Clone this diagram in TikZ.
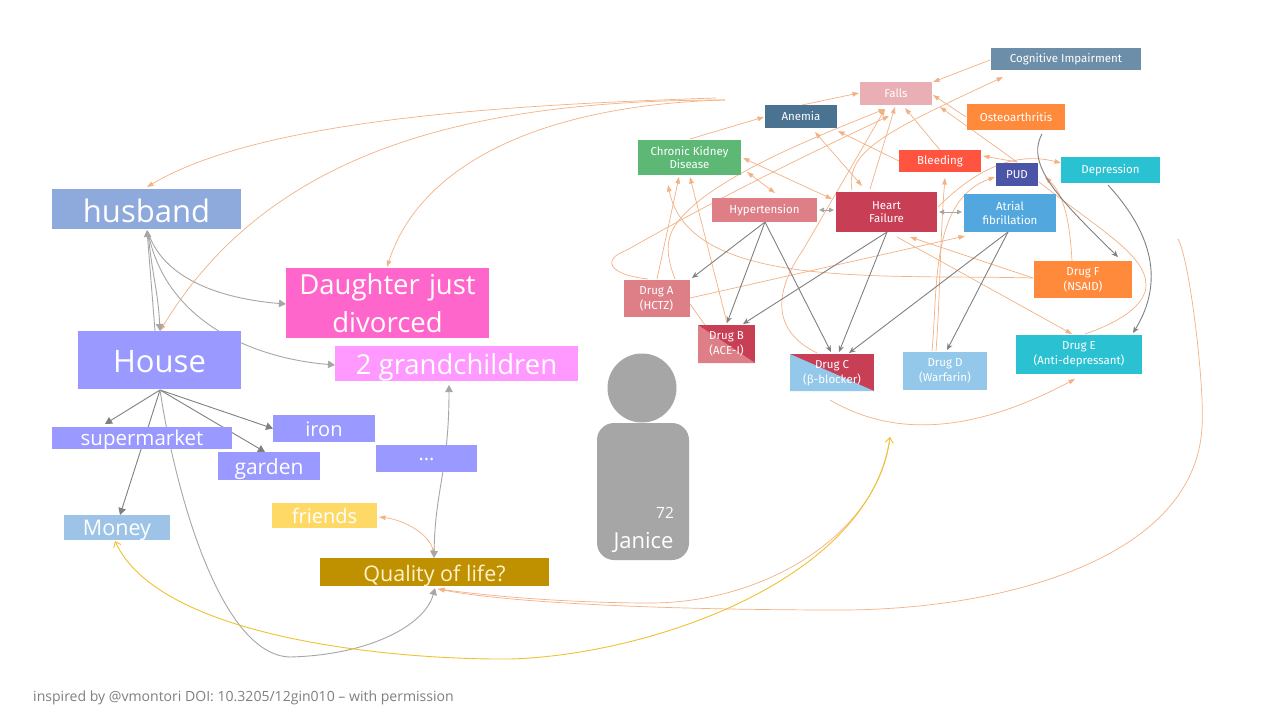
\documentclass[tikz,border=0pt]{standalone}
\usepackage{fontspec}
\usetikzlibrary{arrows.meta,calc}
\newfontfamily\lfont{Open Sans}
\newfontfamily\rfont{Fira Sans}
\newcommand{\fsz}[1]{\fontsize{#1}{#1}\selectfont}
\newcommand{\rz}[2]{\raisebox{-#1pt}[\height][\depth]{#2}}
\definecolor{cgray}{HTML}{A6A6A6}
\definecolor{dgray}{HTML}{808080}
\definecolor{corange}{HTML}{F4B183}
\definecolor{cyellow}{HTML}{EFC22F}
\definecolor{hfred}{HTML}{C73E55}
\definecolor{hyppink}{HTML}{DE7F88}
\definecolor{wblue}{HTML}{94C8EA}
\definecolor{nsaid}{HTML}{FF8A3C}
\definecolor{tealc}{HTML}{2AC1D3}
\definecolor{lav}{HTML}{9999FF}
\pgfdeclarelayer{bg}
\pgfsetlayers{bg,main}
\tikzset{
 x=1pt,y=-1pt,
 lbox/.style={draw=none,inner sep=0pt,text=white,align=center,font=\lfont},
 rbox/.style={draw=none,inner sep=0pt,text=white,align=center,font=\rfont\fsz{11.5}},
 wh/.style 2 args={minimum width=#1pt,minimum height=#2pt},
 gto/.style={draw=cgray,line width=0.9pt,-{Triangle[length=7pt,width=7.5pt]}},
 gdblb/.style={draw=cgray,line width=0.9pt,{Triangle[length=7pt,width=7.5pt]}-{Triangle[length=7pt,width=7.5pt]}},
 dto/.style={draw=dgray,line width=0.9pt,-{Triangle[length=7pt,width=7.5pt]}},
 gdbl/.style={draw=cgray,line width=1pt,{Triangle[length=5pt,width=4.5pt]}-{Triangle[length=5pt,width=4.5pt]}},
 rto/.style={draw=dgray,line width=0.9pt,-{Stealth[length=6.5pt,width=5.5pt]}},
 oto/.style={draw=corange,line width=0.7pt,-{Triangle[length=6.5pt,width=4.5pt]}},
 odbl/.style={draw=corange,line width=0.7pt,{Triangle[length=6.5pt,width=4.5pt]}-{Triangle[length=6.5pt,width=4.5pt]}},
 ono/.style={draw=corange,line width=0.7pt},
 yarrow/.style={draw=cyellow,line width=0.9pt,{Straight Barb[length=5pt,width=8pt]}-{Straight Barb[length=5pt,width=8pt]}},
 splitb/.style={path picture={\fill[hyppink] (path picture bounding box.north west) -- (path picture bounding box.south east) -- (path picture bounding box.south west) -- cycle;}},
 splitc/.style={path picture={\fill[wblue] (path picture bounding box.north west) -- (path picture bounding box.south east) -- (path picture bounding box.south west) -- cycle;}},
}
\begin{document}
\begin{tikzpicture}
\useasboundingbox (0,0) rectangle (1280,720);
% ---------- left nodes
\node[lbox,fill={rgb,255:red,142;green,169;blue,219},wh={189}{40},font=\lfont\fsz{31}] (husband) at (146.5,209) {\rz{1.5}{husband}};
\node[lbox,fill=lav,wh={163}{58},font=\lfont\fsz{31}] (house) at (159.5,360) {\rz{2}{House}};
\node[lbox,fill={rgb,255:red,255;green,102;blue,204},wh={203}{70},font=\lfont\fsz{27.5},text width=203pt] (daughter) at (387.5,303) {Daughter just\\[11pt]divorced};
\node[lbox,fill={rgb,255:red,255;green,153;blue,255},wh={243}{35},font=\lfont\fsz{27.5}] (grand) at (456.5,363.5) {\rz{4}{2 grandchildren}};
\node[lbox,fill=lav,wh={180}{22},font=\lfont\fsz{20.5}] (super) at (142,438) {\rz{2}{supermarket}};
\node[lbox,fill=lav,wh={102}{27},font=\lfont\fsz{20}] (iron) at (324,428.5) {\rz{1}{iron}};
\node[lbox,fill=lav,wh={102}{28},font=\lfont\fsz{21}] (garden) at (269,466) {\rz{3}{garden}};
\node[lbox,fill=lav,wh={101}{27},font=\lfont\fsz{20}] (dots) at (426.5,458.5) {\rz{1}{...}};
\node[lbox,fill={rgb,255:red,255;green,217;blue,102},wh={105}{25},font=\lfont\fsz{20}] (friends) at (324.5,515.5) {friends};
\node[lbox,fill={rgb,255:red,157;green,195;blue,230},wh={106}{25},font=\lfont\fsz{21.5}] (money) at (117,527.5) {\rz{3}{Money}};
\node[lbox,fill={rgb,255:red,191;green,144;blue,0},wh={229}{28},font=\lfont\fsz{21.5},text={rgb,255:red,255;green,242;blue,204}] (qol) at (434.5,572) {\rz{4}{Quality of life?}};
% ---------- person
\node[draw=none,fill=cgray,circle,minimum size=69pt,inner sep=0pt] (head) at (642,388) {};
\node[draw=none,fill=cgray,rounded corners=17pt,minimum width=92pt,minimum height=137pt,inner sep=0pt] (body) at (643,491.5) {};
\node[text=white,font=\lfont\fsz{15.5},inner sep=0pt] (age) at (665,513) {72};
\node[text=white,font=\lfont\fsz{22},inner sep=0pt] (name) at (643.5,542) {Janice};
% ---------- right nodes
\node[rbox,fill={rgb,255:red,108;green,142;blue,168},wh={150}{22}] (cog) at (1066,59) {Cognitive Impairment};
\node[rbox,fill={rgb,255:red,233;green,175;blue,180},wh={72}{23}] (falls) at (896,93.5) {Falls};
\node[rbox,fill=nsaid,wh={98}{26}] (osteo) at (1016,117) {Osteoarthritis};
\node[rbox,fill={rgb,255:red,74;green,114;blue,145},wh={72}{23}] (anemia) at (801,116.5) {Anemia};
\node[rbox,fill={rgb,255:red,92;green,184;blue,116},wh={103}{35}] (ckd) at (689.5,157.5) {Chronic Kidney\\[2pt]Disease};
\node[rbox,fill={rgb,255:red,255;green,84;blue,64},wh={82}{22}] (bleed) at (940,161) {Bleeding};
\node[rbox,fill={rgb,255:red,74;green,85;blue,168},wh={42}{23}] (pud) at (1017,174.5) {PUD};
\node[rbox,fill=tealc,wh={99}{26}] (dep) at (1110.5,170) {Depression};
\node[rbox,fill=hyppink,wh={105}{24}] (hyp) at (764.5,210) {Hypertension};
\node[rbox,fill=hfred,wh={101}{40}] (hf) at (886.5,212) {Heart\\[2pt]Failure};
\node[rbox,fill={rgb,255:red,82;green,168;blue,222},wh={92}{38}] (af) at (1010,213) {Atrial\\[2pt]fibrillation};
\node[rbox,fill=hyppink,wh={66}{37}] (drA) at (656.5,298.5) {Drug A\\[2pt](HCTZ)};
\node[rbox,fill=hfred,splitb,wh={57}{38}] (drB) at (726.5,344) {Drug B\\[2pt](ACE-I)};
\node[rbox,fill=hfred,splitc,wh={84}{37}] (drC) at (832,372.5) {\rule{0pt}{10pt}Drug C\\[2pt](β-blocker)};
\node[rbox,fill=wblue,wh={84}{38}] (drD) at (945,371) {Drug D\\[2pt](Warfarin)};
\node[rbox,fill=tealc,wh={126}{39}] (drE) at (1079,354.5) {Drug E\\[2pt](Anti-depressant)};
\node[rbox,fill=nsaid,wh={98}{37}] (drF) at (1083,279.5) {Drug F\\[2pt](NSAID)};
% ---------- footer
\node[anchor=west,inner sep=0pt,text=dgray,font=\lfont\fsz{14.05}] (credit) at (33,697.5) {inspired by @vmontori DOI: 10.3205/12gin010 – with permission};
% ---------- free ends
\coordinate (src1) at (725,100);
\coordinate (src2) at (716,98);
\coordinate (yend) at (890,437);
\coordinate (lstart) at (1178,239);
% ---------- connectors
\begin{pgfonlayer}{bg}
\fill[white] (0,0) rectangle (1280,720);
% left orange
\draw[oto] (src2) .. controls (500,105) and (260,120) .. ([shift={(0.5,-22)}]husband.center);
\draw[oto] (src1) .. controls (540,105) and (420,165) .. ([shift={(-0.5,-36)}]daughter.center);
\draw[oto] (src1) .. controls (470,100) and (270,150) .. ([shift={(0.5,-29)}]house.center);
% left gray
\draw[gto] ([shift={(-4.5,-29)}]house.center) -- ([shift={(0.5,21)}]husband.center);
\draw[gto] ([shift={(1.5,23)}]husband.center) .. controls (152,275) and (158,290) .. ([shift={(0.5,-29)}]house.center);
\draw[gto] ([shift={(1.5,23)}]husband.center) .. controls (165,285) and (235,300) .. ([shift={(-101.5,1)}]daughter.center);
\draw[gto] ([shift={(1.5,23)}]husband.center) .. controls (165,320) and (250,358) .. ([shift={(-121.5,1.5)}]grand.center);
\draw[dto] ([shift={(0.5,30)}]house.center) -- ([shift={(-37,-14)}]super.center);
\draw[dto] ([shift={(0.5,30)}]house.center) -- ([shift={(3,-12.5)}]money.center);
\draw[dto] ([shift={(0.5,30)}]house.center) -- ([shift={(-51,0)}]iron.center);
\draw[dto] ([shift={(0.5,30)}]house.center) -- ([shift={(-4,-14)}]garden.center);
\draw[gto] ([shift={(0.5,30)}]house.center) .. controls (175,490) and (220,655) .. (290,657) .. controls (370,655) and (425,625) .. ([shift={(0.5,16)}]qol.center);
\draw[odbl] ([shift={(54.5,1.5)}]friends.center) .. controls (405,520) and (430,535) .. ([shift={(-0.5,-16)}]qol.center);
\draw[gdblb] ([shift={(-0.5,-14)}]qol.center) .. controls (435,490) and (449,470) .. ([shift={(-7.5,21.5)}]grand.center);
% long orange
\draw[oto] (lstart) .. controls (1190,260) and (1205,390) .. (1202,427) .. controls (1195,560) and (1000,610) .. (840,610) .. controls (700,610) and (520,605) .. ([shift={(3.5,17)}]qol.center);
\draw[oto] (yend) .. controls (880,530) and (770,603) .. (650,603) .. controls (600,603) and (520,600) .. ([shift={(3.5,17)}]qol.center);
\draw[yarrow] ([shift={(-2,13.5)}]money.center) .. controls (160,640) and (400,660) .. (510,659) .. controls (650,655) and (870,580) .. (yend);
% right orange
\draw[oto] ([shift={(0.5,-18.5)}]ckd.center) -- ([shift={(-37,0.5)}]anemia.center);
\draw[oto] ([shift={(1,-11.5)}]anemia.center) -- ([shift={(-37,-0.5)}]falls.center);
\draw[oto] ([shift={(-76,1)}]cog.center) -- ([shift={(37,-11.5)}]falls.center);
\draw[oto] ([shift={(-34.5,-22)}]hf.center) .. controls (845,150) and (890,130) .. ([shift={(-63,18)}]cog.center);
\draw[oto] ([shift={(-8.5,-19.5)}]drA.center) .. controls (610,275) and (600,260) .. (627,250) .. controls (720,197) and (800,158) .. ([shift={(-7,22.5)}]falls.center);
\draw[oto] ([shift={(18.5,-19.5)}]drA.center) .. controls (660,240) and (670,225) .. (700,200) .. controls (745,165) and (820,135) .. ([shift={(-11,15.5)}]falls.center);
\draw[oto] ([shift={(0.5,-19.5)}]drA.center) -- ([shift={(-10.5,19.5)}]ckd.center);
\draw[oto] ([shift={(0.5,-21)}]drB.center) -- ([shift={(0.5,19.5)}]ckd.center);
\draw[oto] ([shift={(-50,-1.5)}]drF.center) .. controls (880,274) and (690,290) .. ([shift={(-21.5,27.5)}]ckd.center);
\draw[oto] ([shift={(-15,-19.5)}]drC.center) .. controls (770,330) and (775,290) .. (803,250) -- ([shift={(-11,15.5)}]falls.center);
\draw[oto] ([shift={(-16.5,-23)}]hf.center) -- ([shift={(-1,13.5)}]falls.center);
\draw[oto] ([shift={(0,-11)}]bleed.center) -- ([shift={(9,14.5)}]falls.center);
\draw[oto] ([shift={(-41,0)}]bleed.center) -- ([shift={(37,14.5)}]anemia.center);
\draw[odbl] ([shift={(-24.5,-26)}]hf.center) -- ([shift={(14,15.5)}]anemia.center);
\draw[odbl] ([shift={(10.5,-17)}]hyp.center) -- ([shift={(57.5,14.5)}]ckd.center);
\draw[odbl] ([shift={(53.5,0.5)}]ckd.center) -- ([shift={(-54.5,-13)}]hf.center);
\draw[oto] ([shift={(0,-12.5)}]pud.center) -- ([shift={(44,13.5)}]falls.center);
\draw[oto] ([shift={(-50,0)}]osteo.center) -- ([shift={(37,1.5)}]falls.center);
\draw[oto] ([shift={(0,-12.5)}]pud.center) -- ([shift={(43,-5)}]bleed.center);
\draw[oto] ([shift={(51.5,-5)}]hf.center) .. controls (970,175) and (1010,150) .. ([shift={(-49.5,-7)}]dep.center);
\draw[oto] ([shift={(-13,-20)}]drD.center) .. controls (938,290) and (930,200) .. ([shift={(-22,2.5)}]pud.center);
\draw[oto] ([shift={(-9,-20)}]drD.center) .. controls (940,300) and (940,240) .. ([shift={(5,17)}]bleed.center);
\draw[oto] ([shift={(-11,-18.5)}]drF.center) .. controls (1070,225) and (1065,195) .. ([shift={(28,2.5)}]pud.center);
\draw[ono] ([shift={(6,-20.5)}]drE.center) .. controls (1120,322) and (1146,305) .. (1146,285) .. controls (1146,255) and (1100,230) .. ([shift={(22,7.5)}]pud.center);
\draw[oto] ([shift={(33.5,-0.5)}]drA.center) -- ([shift={(-45,23)}]af.center);
\draw[ono] ([shift={(33.5,5.5)}]drA.center) -- ([shift={(-21.5,-19)}]drB.center);
\draw[oto] ([shift={(-50,-1.5)}]drF.center) -- ([shift={(23.5,25)}]hf.center);
\draw[oto] ([shift={(10.5,25)}]hf.center) -- ([shift={(-7,-20.5)}]drE.center);
\draw[oto] ([shift={(-2,27.5)}]drC.center) .. controls (885,432) and (960,440) .. ([shift={(-4,24.5)}]drE.center);
% right gray
\draw[rto] ([shift={(0.5,12)}]hyp.center) -- ([shift={(35.5,-20.5)}]drA.center);
\draw[rto] ([shift={(0.5,12)}]hyp.center) -- ([shift={(0.5,-21)}]drB.center);
\draw[rto] ([shift={(0.5,12)}]hyp.center) -- ([shift={(-1,-20.5)}]drC.center);
\draw[rto] ([shift={(0.5,20)}]hf.center) -- ([shift={(16.5,-20)}]drB.center);
\draw[rto] ([shift={(0.5,20)}]hf.center) -- ([shift={(7,-20.5)}]drC.center);
\draw[rto] ([shift={(-2,19)}]af.center) -- ([shift={(17,-19.5)}]drC.center);
\draw[rto] ([shift={(-2,19)}]af.center) -- ([shift={(2,-21)}]drD.center);
\draw[rto] ([shift={(26,17)}]osteo.center) .. controls (1025,165) and (1060,200) .. ([shift={(35,-22.5)}]drF.center);
\draw[rto] ([shift={(-2.5,15)}]dep.center) .. controls (1138,218) and (1172,270) .. ([shift={(54,-21.5)}]drE.center);
\draw[gdbl] ([shift={(54.5,0)}]hyp.center) -- ([shift={(-52.5,-2)}]hf.center);
\draw[gdbl] ([shift={(52.5,0)}]hf.center) -- ([shift={(-48,-1)}]af.center);
\end{pgfonlayer}
\end{tikzpicture}
\end{document}
